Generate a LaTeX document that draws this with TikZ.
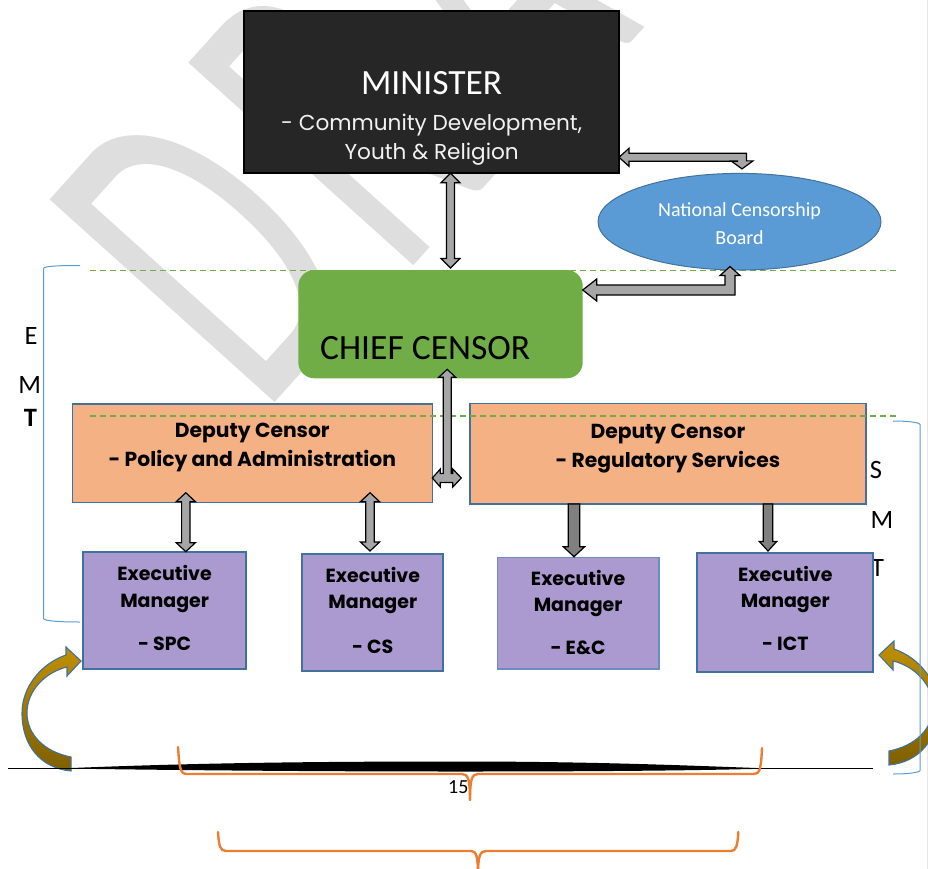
\documentclass[tikz,border=0pt]{standalone}
\usepackage{fontspec}
\setmainfont{Carlito}
\newfontfamily\gothic{Poppins}
\usetikzlibrary{calc,shapes.geometric}

\definecolor{wmgray}{RGB}{222,222,222}
\definecolor{minblack}{RGB}{38,38,38}
\definecolor{ncbblue}{RGB}{91,155,213}
\definecolor{edgeblue}{RGB}{65,113,156}
\definecolor{chiefgreen}{RGB}{112,173,71}
\definecolor{depor}{RGB}{244,177,131}
\definecolor{exviolet}{RGB}{170,154,208}
\definecolor{lightedge}{RGB}{108,142,191}
\definecolor{arrgray}{RGB}{166,166,166}
\definecolor{arrdark}{RGB}{128,128,128}
\definecolor{gold}{RGB}{191,144,0}
\definecolor{darkgold}{RGB}{127,96,0}
\definecolor{orangeln}{RGB}{237,125,49}
\definecolor{bracketblue}{RGB}{91,155,213}
\definecolor{pageedge}{RGB}{230,230,230}

% vertical block arrow with heads at both ends: top tip, bottom tip, shaft half width, head half width, head length
\newcommand\dblarrowV[5]{%
  \filldraw[blockarrow] let \p1=(#1), \p2=(#2) in
    (\p1) -- (\x1+#4,\y1-#5) -- (\x1+#3,\y1-#5) -- (\x1+#3,\y2+#5) -- (\x1+#4,\y2+#5)
    -- (\x1,\y2) -- (\x1-#4,\y2+#5) -- (\x1-#3,\y2+#5) -- (\x1-#3,\y1-#5) -- (\x1-#4,\y1-#5) -- cycle;}

% vertical block arrow pointing down: start, tip, shaft half width, head half width, head length
\newcommand\downarrowV[5]{%
  \filldraw[blockarrow, fill=arrdark] let \p1=(#1), \p2=(#2) in
    (\x1-#3,\y1) -- (\x1+#3,\y1) -- (\x1+#3,\y2+#5) -- (\x1+#4,\y2+#5) -- (\x1,\y2)
    -- (\x1-#4,\y2+#5) -- (\x1-#3,\y2+#5) -- cycle;}

% curved gold arrow swinging up into a box from the left
\newcommand\curvedarrowL{%
  \shadedraw[curvearrow] (71,757) -- (71,771)
    .. controls (40,768) and (22,745) .. (22,713)
    .. controls (22,688) and (40,664) .. (66,655)
    -- (66,647) -- (81,661) -- (67,676) -- (67,667)
    .. controls (46,672) and (27,690) .. (27,713)
    .. controls (27,735) and (45,752) .. (71,757) -- cycle;}

\begin{document}
\begin{tikzpicture}[x=1pt,y=-1pt,
  blockarrow/.style={draw=black, line width=1.2pt, fill=arrgray, line join=miter},
  curvearrow/.style={draw=edgeblue, line width=1.1pt, top color=gold, bottom color=darkgold},
  boxbase/.style={rectangle, inner sep=0pt, outer sep=0pt},
  deputybox/.style={boxbase, draw=edgeblue, line width=1.6pt, fill=depor},
  execbox/.style={boxbase, draw=edgeblue, line width=1.8pt, fill=exviolet},
  greendash/.style={draw=chiefgreen, line width=1.1pt, dash pattern=on 6pt off 4pt},
  bracket/.style={draw=bracketblue, line width=1pt},
  brace/.style={draw=orangeln, line width=2.4pt, line cap=round, line join=round},
  wm/.style={rotate=48, anchor=base west, inner sep=0pt, text=wmgray,
    font=\fontsize{472}{472}\selectfont},
  mintitle/.style={anchor=base, inner sep=0pt, text=white, font=\fontsize{35.5}{36}\selectfont},
  mintext/.style={anchor=base, inner sep=0pt, text=white!95!black, font=\gothic\fontsize{21.6}{24}\selectfont},
  ncbtext/.style={anchor=base, inner sep=0pt, text=white, font=\fontsize{20}{22}\selectfont},
  chieftext/.style={anchor=base west, inner sep=0pt, text=black, font=\fontsize{35.5}{36}\selectfont},
  deptext/.style={anchor=base, inner sep=0pt, font=\gothic\bfseries\fontsize{20.3}{22}\selectfont},
  exectext/.style={anchor=base, inner sep=0pt, font=\gothic\bfseries\fontsize{19}{21}\selectfont},
  teamletter/.style={anchor=base, inner sep=0pt, font=\fontsize{26.5}{28}\selectfont}
]
\useasboundingbox (0,0) rectangle (928,869);
\clip (0,0) rectangle (928,869);

% page edge
\draw[pageedge, line width=1pt] (927,0) -- (927,869);

% watermark, narrow letters set one by one along the diagonal
\node[wm] (wm-d) at (262.4,416.2) {\scalebox{0.586}[1]{D}};
\node[wm] (wm-r) at (400.4,280.8) {\scalebox{0.586}[1]{R}};
\node[wm] (wm-a) at (538.6,145.2) {\scalebox{0.586}[1]{A}};
\node[wm] (wm-ft) at (672,14) {\scalebox{0.586}[1]{FT}};

% upper team boundary
\draw[greendash] (90,270.5) -- (898,270.5);

% team labels
\node[teamletter] (emt-e) at (31,344.3) {E};
\node[teamletter] (emt-m) at (29.7,393.3) {M};
\node[teamletter, font=\bfseries\fontsize{26.5}{28}\selectfont] (emt-t) at (30.5,426.7) {T};
\node[teamletter] (smt-s) at (876,478.3) {S};
\node[teamletter] (smt-m) at (882,528.3) {M};
\node[teamletter] (smt-t) at (877.5,576.7) {T};

% EMT bracket
\draw[bracket] (80,265.5) .. controls (60,265.5) and (44,266) .. (43.5,268.5)
  -- (43.5,618.5) .. controls (44,621) and (60,622) .. (80,622);

% boxes
\node[boxbase, draw=black, line width=2pt, fill=minblack,
  minimum width=374.7pt, minimum height=162.6pt] (minister) at (431.65,92) {};
\node[ellipse, draw=edgeblue, line width=1pt, fill=ncbblue, inner sep=0pt,
  minimum width=283pt, minimum height=96.6pt] (ncb) at (739.5,221.7) {};
\node[boxbase, fill=chiefgreen, rounded corners=16pt,
  minimum width=284.4pt, minimum height=108.3pt] (chief) at (440.5,324.15) {};
\node[deputybox, minimum width=360pt, minimum height=98.3pt] (dl) at (252.3,453.15) {};
\node[deputybox, minimum width=395.7pt, minimum height=100.7pt] (dr) at (667.85,453.65) {};
\node[execbox, minimum width=162.7pt, minimum height=117.6pt] (spc) at (164.65,610.5) {};
\node[execbox, minimum width=141pt, minimum height=117pt] (cs) at (372.8,612.5) {};
\node[execbox, draw=lightedge, line width=1.2pt,
  minimum width=161.7pt, minimum height=111.7pt] (ec) at (578.15,613.15) {};
\node[execbox, minimum width=176pt, minimum height=119.6pt] (ict) at (785.3,612.5) {};

% box texts
\node[mintitle] (min-t) at (431.65,95) {MINISTER};
\node[mintext] (min-l1) at (431.65,130.7) {- Community Development,};
\node[mintext] (min-l2) at (431.65,159.3) {Youth \& Religion};
\node[ncbtext] (ncb-l1) at (739.5,216.7) {National Censorship};
\node[ncbtext] (ncb-l2) at (739.5,244) {Board};
\node[chieftext] (chief-t) at (320,359.5) {CHIEF CENSOR};
\node[deptext] (dl-l1) at (252.3,437) {Deputy Censor};
\node[deptext] (dl-l2) at (252.3,466) {- Policy and Administration};
\node[deptext] (dr-l1) at (667.85,438) {Deputy Censor};
\node[deptext] (dr-l2) at (667.85,467.5) {- Regulatory Services};
\node[exectext] (spc-l1) at (164.65,580.7) {Executive};
\node[exectext] (spc-l2) at (164.65,607) {Manager};
\node[exectext] (spc-l3) at (164.65,650) {- SPC};
\node[exectext] (cs-l1) at (372.8,582.7) {Executive};
\node[exectext] (cs-l2) at (372.8,608.5) {Manager};
\node[exectext] (cs-l3) at (372.8,653.3) {- CS};
\node[exectext] (ec-l1) at (578.15,585) {Executive};
\node[exectext] (ec-l2) at (578.15,611) {Manager};
\node[exectext] (ec-l3) at (578.15,654) {- E\&C};
\node[exectext] (ict-l1) at (785.3,581) {Executive};
\node[exectext] (ict-l2) at (785.3,607) {Manager};
\node[exectext] (ict-l3) at (785.3,650) {- ICT};

% lower team boundary
\draw[greendash] (90,416) -- (898,416);

% connector columns
\coordinate (colmc) at (450.5,0);
\coordinate (colspc) at (185.8,0);
\coordinate (colcs) at (370,0);
\coordinate (colec) at (574,0);
\coordinate (colict) at (768,0);

% minister <-> chief censor
\dblarrowV{minister.south -| colmc}{$(chief.north -| colmc)+(0,-2)$}{4}{9.5}{9.5}

% minister <-> national censorship board
\coordinate (mn1) at ($(minister.south east)+(0,-16)$);
\coordinate (mn2) at ($(ncb.north)+(2.5,-4)$);
\filldraw[blockarrow] let \p1=(mn1), \p2=(mn2) in
  (\p1) -- (\x1+10,\y1+9) -- (\x1+10,\y1+4) -- (\x2+4.5,\y1+4) -- (\x2+4.5,\y2+8)
  -- (\x2+11,\y2+8) -- (\p2) -- (\x2-11,\y2+8) -- (\x2-4.5,\y2+8) -- (\x2-4.5,\y1-4)
  -- (\x1+10,\y1-4) -- (\x1+10,\y1-9) -- cycle;

% chief censor <-> national censorship board
\coordinate (cn1) at ($(chief.north east)+(0,20)$);
\coordinate (cn2) at ($(ncb.south)+(-9.5,-4)$);
\filldraw[blockarrow] let \p1=(cn1), \p2=(cn2) in
  (\p1) -- (\x1+14,\y1+11) -- (\x1+14,\y1+5) -- (\x2-5,\y1+5) -- (\x2-5,\y2-9)
  -- (\x2-10,\y2-9) -- (\p2) -- (\x2+10,\y2-9) -- (\x2+5,\y2-9) -- (\x2+5,\y1-5)
  -- (\x1+14,\y1-5) -- (\x1+14,\y1-11) -- cycle;

% chief censor <-> both deputies
\coordinate (cd1) at ($(chief.south)+(6.7,-9)$);
\coordinate (cd2) at ($(dl.north east)+(0,74)$);
\filldraw[blockarrow] let \p1=(cd1), \p2=(cd2) in
  (\p1) -- (\x1+8.5,\y1-8) -- (\x1+4,\y1-8) -- (\x1+4,\y2+4.5) -- (\x2+20.5,\y2+4.5)
  -- (\x2+20.5,\y2+9) -- (\x2+29,\y2) -- (\x2+20.5,\y2-9) -- (\x2+20.5,\y2-4.5)
  -- (\x2+8,\y2-4.5) -- (\x2+8,\y2-9) -- (\p2) -- (\x2+8,\y2+9) -- (\x2+8,\y2+4.5)
  -- (\x1-4,\y2+4.5) -- (\x1-4,\y1-8) -- (\x1-8.5,\y1-8) -- cycle;

% deputy (policy) <-> executive managers
\dblarrowV{$(dl.south -| colspc)+(0,-9.6)$}{spc.north -| colspc}{4.2}{9.6}{9}
\dblarrowV{$(dl.south -| colcs)+(0,-9.6)$}{$(cs.north -| colcs)+(0,-3)$}{4.2}{9.6}{9}

% deputy (regulatory) -> executive managers
\downarrowV{dr.south -| colec}{$(ec.north -| colec)+(0,-0.6)$}{5.8}{10.7}{10}
\downarrowV{dr.south -| colict}{$(ict.north -| colict)+(0,-1.7)$}{4.7}{8.7}{9.5}

% curved arrows at both ends
\curvedarrowL
\begin{scope}[xshift=960pt, yshift=6pt, xscale=-1]
  \curvedarrowL
\end{scope}

% SMT bracket
\draw[bracket] (893,421) .. controls (905,421) and (919,422) .. (920,424.5)
  -- (920,770.5) .. controls (919,773) and (905,774) .. (893,774);

% ground line
\draw[black, line width=1.2pt] (8,768.5) -- (873,768.5);
\fill[black] (60,768.5) .. controls (200,762.5) and (330,761.5) .. (460,761.5)
  .. controls (600,761.5) and (700,766) .. (770,768.5)
  .. controls (700,770.5) and (600,771.5) .. (460,771.5)
  .. controls (330,771.5) and (200,770.5) .. (60,768.5) -- cycle;

% braces
\draw[brace] (178,747) .. controls (179.5,768) and (180,774) .. (187,774) -- (462,774)
  .. controls (468,774) and (470,779) .. (470,800);
\draw[brace] (470,800) .. controls (470,779) and (472,774) .. (478,774) -- (754,774)
  .. controls (760,774) and (761,768) .. (762,748);
\node[anchor=base, inner sep=0pt, font=\fontsize{20}{22}\selectfont] (pagenum) at (458.3,793.3) {15};
\draw[brace] (218,832) .. controls (219,846) and (220,851) .. (226,851) -- (471,851)
  .. controls (476,851) and (478,856) .. (478,875);
\draw[brace] (478,875) .. controls (478,856) and (480,851) .. (486,851) -- (731,851)
  .. controls (736,851) and (737.5,846) .. (738.3,832);
\end{tikzpicture}
\end{document}
